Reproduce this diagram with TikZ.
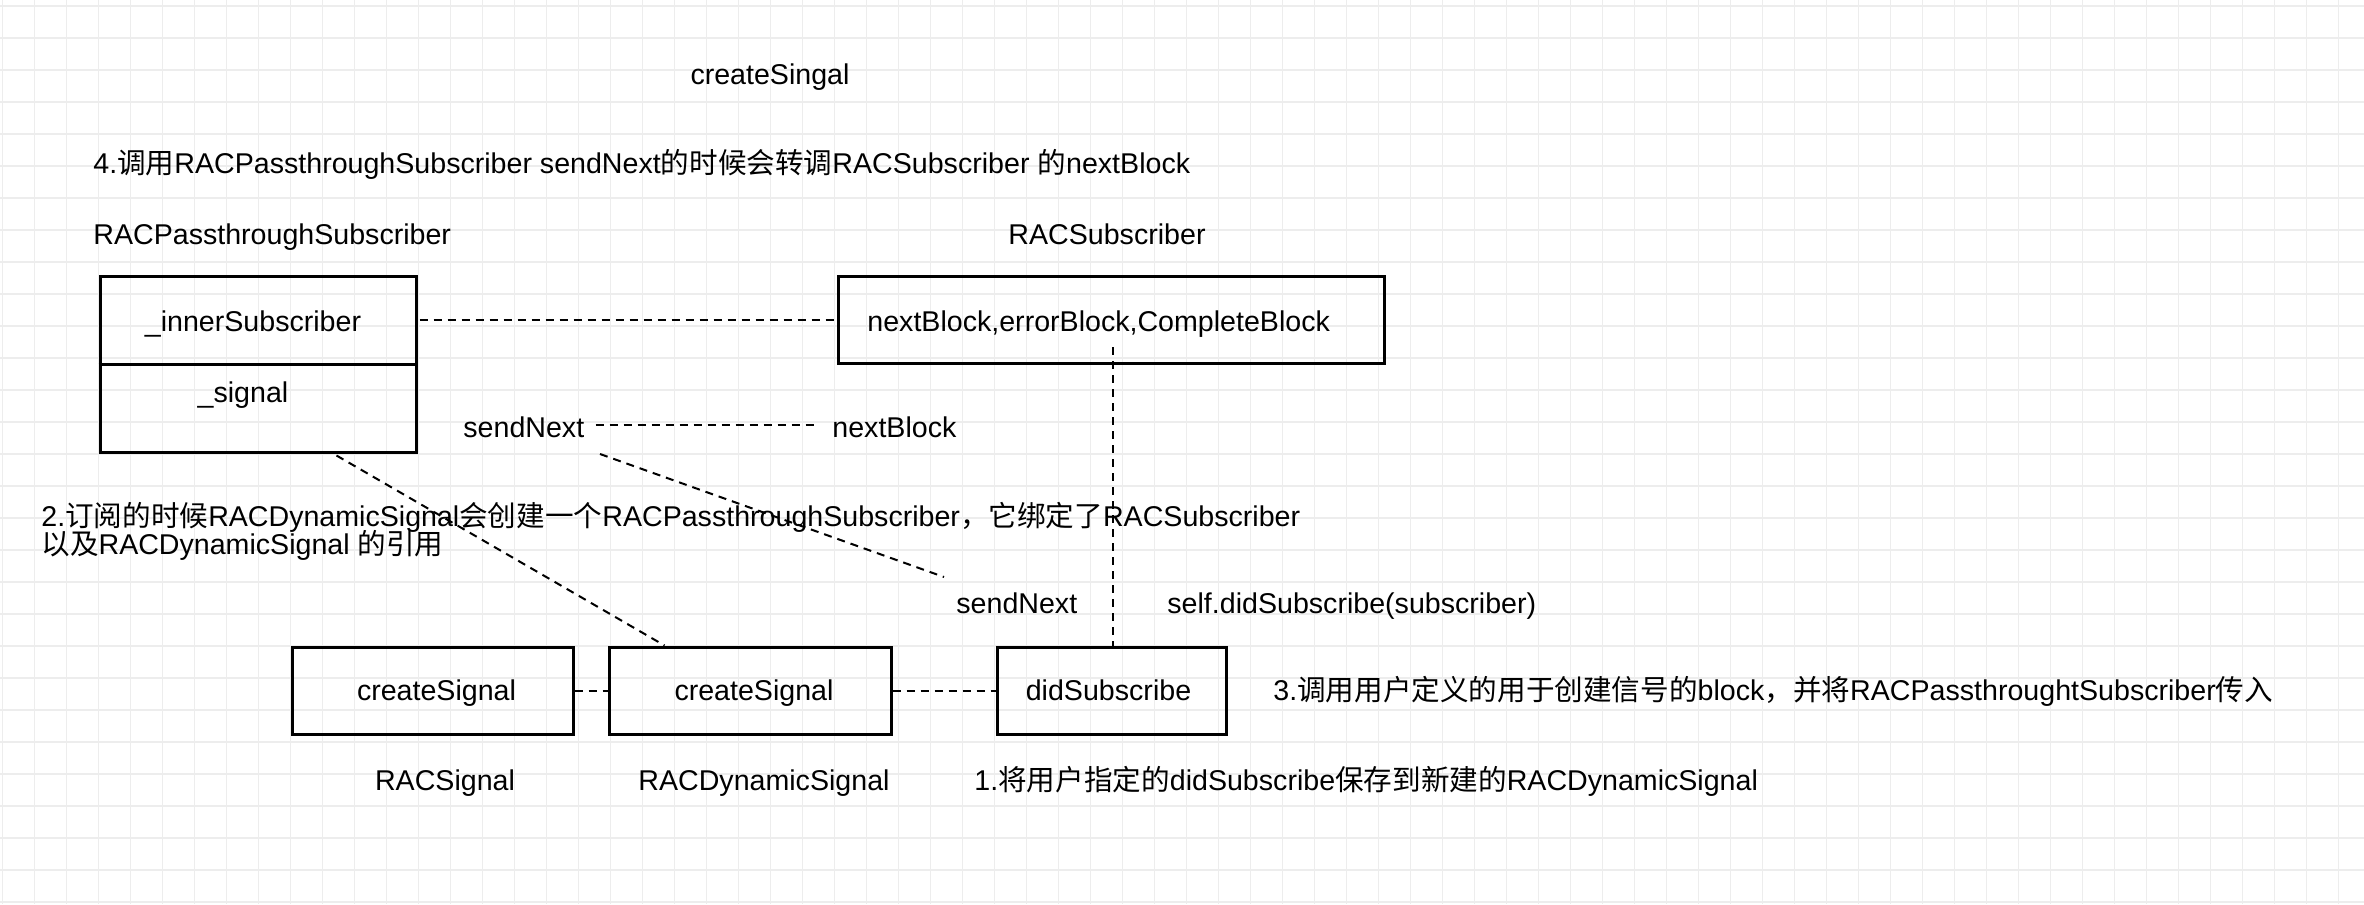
\documentclass[tikz,border=0pt]{standalone}
\usepackage{fontspec}
\setmainfont{Liberation Sans}
\newfontfamily\cjk{Noto Sans CJK SC}
\newcommand\zh[1]{{\cjk #1}}
\begin{document}
\begin{tikzpicture}[x=0.5pt,y=-0.5pt,
  txt/.style={inner sep=0pt, font=\fontsize{14.3pt}{17pt}\selectfont},
  boxst/.style={draw, line width=1.5pt, inner sep=0pt},
  dline/.style={line width=1pt, dash pattern=on 4pt off 3pt},
  gridline/.style={draw=black!7, line width=0.65pt}]
\useasboundingbox (0,0) rectangle (2364,904);
\fill[white] (0,0) rectangle (2364,904);
\foreach \x in {2.7,34.7,...,2364} \draw[gridline] (\x,0) -- (\x,904);
\foreach \y in {6,38,...,904} \draw[gridline] (0,\y) -- (2364,\y);

% texts on top
\node[txt, anchor=base] (t0) at (770,85) {createSingal};
\node[txt, anchor=base west] (t4) at (93,173) {4.\zh{调用}RACPassthroughSubscriber sendNext\zh{的时候会转调}RACSubscriber \zh{的}nextBlock};
\node[txt, anchor=base west] (lp) at (93,244) {RACPassthroughSubscriber};
\node[txt, anchor=base] (ls) at (1107,244) {RACSubscriber};

% boxes
\node[boxst, minimum width=158pt, minimum height=88pt] (p) at (258,364) {};
\draw[line width=1.5pt] (p.west) -- (p.east);
\node[txt, anchor=base] (pin) at (253,331) {\_innerSubscriber};
\node[txt, anchor=base] (psg) at (243,402) {\_signal};

\node[boxst, minimum width=273pt, minimum height=43.5pt] (s) at (1111,319.5) {};
\node[txt, anchor=base west] (stx) at (867,331) {nextBlock,errorBlock,CompleteBlock};

\draw[dline] ([xshift=1pt]p.east |- s.west) -- (s.west);

% sendNext - nextBlock
\node[txt, anchor=base west] (sn1) at (463,437) {sendNext};
\node[txt, anchor=base west] (nb) at (832,437) {nextBlock};
\draw[dline, shorten <=5.5pt, shorten >=9pt] ([yshift=1pt]sn1.east) -- ([yshift=1pt]nb.west);

% note 2
\node[txt, anchor=base west] (n2a) at (41,526) {2.\zh{订阅的时候}RACDynamicSignal\zh{会创建一个}RACPassthroughSubscriber\zh{，它绑定了}RACSubscriber};
\node[txt, anchor=base west] (n2b) at (41,554) {\zh{以及}RACDynamicSignal \zh{的引用}};

\node[txt, anchor=base west] (sn2) at (956,613) {sendNext};
\node[txt, anchor=base west] (sds) at (1167,613) {self.didSubscribe(subscriber)};

% bottom boxes
\node[boxst, minimum width=140.5pt, minimum height=43.5pt] (c1) at (432.5,690.5) {};
\node[txt, anchor=base] at ([xshift=2pt]c1.center |- 0,700) {createSignal};
\node[boxst, minimum width=141pt, minimum height=43.5pt] (c2) at (750,690.5) {};
\node[txt, anchor=base] at ([xshift=2pt]c2.center |- 0,700) {createSignal};
\node[boxst, minimum width=114.5pt, minimum height=43.5pt] (d) at (1111.5,690.5) {};
\node[txt, anchor=base] at ([xshift=-1.5pt]d.center |- 0,700) {didSubscribe};

\draw[dline] (c1.east) -- (c2.west);
\draw[dline] (c2.east) -- (d.west);

\node[txt, anchor=base west] (n3) at (1273,700) {3.\zh{调用用户定义的用于创建信号的}block\zh{，并将}RACPassthroughtSubscriber\zh{传入}};
\node[txt, anchor=base] (lrs) at (445,790) {RACSignal};
\node[txt, anchor=base] (lrd) at (764,790) {RACDynamicSignal};
\node[txt, anchor=base west] (n1) at (974,790) {1.\zh{将用户指定的}didSubscribe\zh{保存到新建的}RACDynamicSignal};

% diagonals and vertical
\coordinate (a1) at (600,454);
\coordinate (a2) at (944,577);
\draw[dline] (a1) -- (a2);
\draw[dline] ([xshift=119pt,yshift=-1pt]p.south west) -- ([xshift=28.5pt]c2.north west);
\coordinate (v1) at (1113,347);
\draw[dline] (v1) -- (v1 |- d.north);
\end{tikzpicture}
\end{document}
